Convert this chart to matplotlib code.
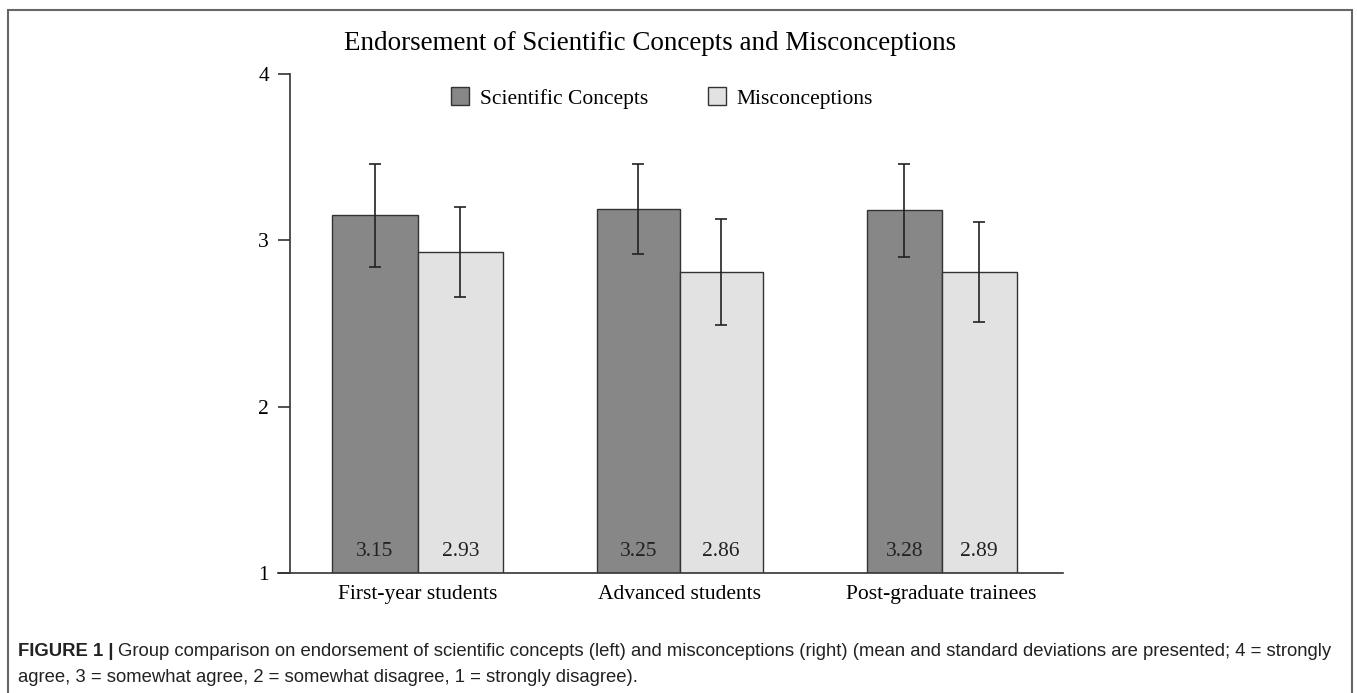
import matplotlib.pyplot as plt
from matplotlib.patches import Rectangle, Patch
import numpy as np

# donnees (moyennes et ecarts-types)
groupes = ['First-year students', 'Advanced students', 'Post-graduate trainees']
concepts = [3.15, 3.19, 3.18]
concepts_et = [0.31, 0.27, 0.28]
misconceptions = [2.93, 2.81, 2.81]
misconceptions_et = [0.27, 0.32, 0.30]
etiquettes_concepts = ['3.15', '3.25', '3.28']
etiquettes_misconceptions = ['2.93', '2.86', '2.89']
graduations = [1, 2, 3, 4]

LARGEUR, HAUTEUR = 1357, 693
SERIF = 'Liberation Serif'
SANS = 'Liberation Sans'
FONCE = '#878787'
CLAIR = '#e2e2e2'
TRAIT = '#333333'
TAILLE = 21.5  # taille du texte serif en pixels


def px(n):
    """conversion pixels -> points (dpi 100)"""
    return n * 72 / 100


fig = plt.figure(figsize=(LARGEUR / 100, HAUTEUR / 100), dpi=100)
ax = fig.add_axes([278 / LARGEUR, 1 - 573.3 / HAUTEUR,
                   (1063 - 278) / LARGEUR, (573.3 - 74) / HAUTEUR])

# axes d'abord : set_position remet les graduations a zero
for cote in ['top', 'right']:
    ax.spines[cote].set_visible(False)
ax.spines['left'].set_position(('data', -0.487))
ax.spines['left'].set_color(TRAIT)
ax.spines['left'].set_linewidth(1.2)
ax.spines['bottom'].set_color(TRAIT)
ax.spines['bottom'].set_linewidth(1.2)

x = np.arange(len(groupes))
largeurs = np.array([0.326, 0.317, 0.286])

ax.bar(x - largeurs / 2, concepts, width=largeurs, color=FONCE,
       edgecolor=TRAIT, linewidth=1, label='Scientific Concepts')
ax.bar(x + largeurs / 2, misconceptions, width=largeurs, color=CLAIR,
       edgecolor=TRAIT, linewidth=1, label='Misconceptions')
ax.errorbar(x - largeurs / 2, concepts, yerr=concepts_et, fmt='none',
            ecolor='#222222', elinewidth=1.2, capsize=px(6), capthick=1.2)
ax.errorbar(x + largeurs / 2, misconceptions, yerr=misconceptions_et, fmt='none',
            ecolor='#222222', elinewidth=1.2, capsize=px(6), capthick=1.2)

for i in range(len(groupes)):
    ax.text(x[i] - largeurs[i] / 2, 1.13, etiquettes_concepts[i], ha='center',
            va='center', fontsize=px(TAILLE), family=SERIF, color='#222222')
    ax.text(x[i] + largeurs[i] / 2, 1.13, etiquettes_misconceptions[i], ha='center',
            va='center', fontsize=px(TAILLE), family=SERIF, color='#222222')

ax.set_xlim(-0.533, 2.463)
ax.set_ylim(1, 4)
ax.set_yticks(graduations)
ax.set_yticklabels([str(g) for g in graduations], family=SERIF, fontsize=px(TAILLE))
ax.set_xticks(x)
ax.set_xticklabels(groupes, family=SERIF, fontsize=px(TAILLE))
ax.tick_params(axis='y', length=px(12), width=1.2, color=TRAIT, pad=px(9))
ax.tick_params(axis='x', length=0, pad=px(12))

poignees = [Patch(facecolor=FONCE, edgecolor=TRAIT, linewidth=1),
            Patch(facecolor=CLAIR, edgecolor=TRAIT, linewidth=1)]
fig.legend(poignees, ['Scientific Concepts', 'Misconceptions'], ncol=2,
           loc='center', bbox_to_anchor=(662 / LARGEUR, 1 - 98 / HAUTEUR),
           frameon=False, prop={'family': SERIF, 'size': px(TAILLE)},
           handlelength=0.85, handleheight=0.9, handletextpad=0.5,
           columnspacing=2.75, borderpad=0, borderaxespad=0)

fig.text(650 / LARGEUR, 1 - 44 / HAUTEUR,
         'Endorsement of Scientific Concepts and Misconceptions',
         ha='center', va='center', family=SERIF, fontsize=px(27))

# legende de la figure
TAILLE_SANS = 18.5
gras = fig.text(18 / LARGEUR, 1 - 651 / HAUTEUR, 'FIGURE 1 |', ha='left',
                va='center', family=SANS, fontsize=px(TAILLE_SANS), weight='bold',
                color='#222222')
fig.canvas.draw()
boite = gras.get_window_extent(fig.canvas.get_renderer())
fig.text(boite.x1 / LARGEUR + 5 / LARGEUR, 1 - 651 / HAUTEUR,
         'Group comparison on endorsement of scientific concepts (left) and '
         'misconceptions (right) (mean and standard deviations are presented; '
         '4 = strongly', ha='left', va='center', family=SANS,
         fontsize=px(TAILLE_SANS), color='#222222')
fig.text(18 / LARGEUR, 1 - 677 / HAUTEUR,
         'agree, 3 = somewhat agree, 2 = somewhat disagree, 1 = strongly disagree).',
         ha='left', va='center', family=SANS, fontsize=px(TAILLE_SANS), color='#222222')

fig.add_artist(Rectangle((8 / LARGEUR, -0.05), (1352 - 8) / LARGEUR,
                         1.05 - 10.5 / HAUTEUR, transform=fig.transFigure,
                         fill=False, edgecolor='#666666', linewidth=1.5))

plt.savefig('out.png', dpi=100)
